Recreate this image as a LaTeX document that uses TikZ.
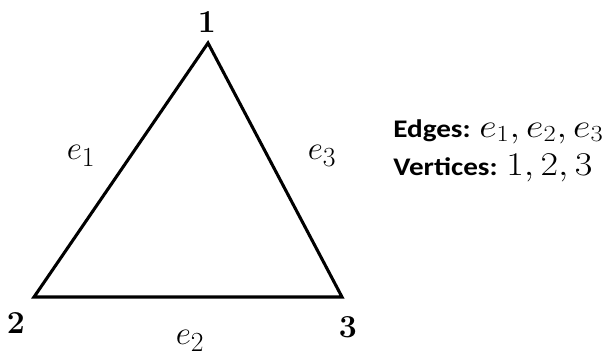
\documentclass[tikz,border=0pt]{standalone}
\usepackage{fontspec}
\newfontfamily\calib{Carlito}
\usetikzlibrary{positioning}
\begin{document}
\begin{tikzpicture}[x=0.75pt,y=-0.75pt,
  edge/.style={line width=2.3pt,line join=miter},
  vlabel/.style={font=\fontsize{24}{28}\selectfont\bfseries,inner sep=0pt},
  elabel/.style={font=\fontsize{28}{32}\selectfont,inner sep=0pt},
  legend/.style={font=\calib\fontsize{19}{22}\selectfont,inner sep=0pt,xscale=1.15}]
\useasboundingbox (0,0) rectangle (605,355);
% vertices of the triangle
\coordinate (v1) at (208,43);
\coordinate (v2) at (34,297);
\coordinate (v3) at (342,297);
\node[vlabel] (n1) at (207,22) {1};
\node[vlabel] (n2) at (16,323) {2};
\node[vlabel] (n3) at (348,327) {3};
% edges
\draw[edge] (v1) -- (v2) -- (v3) -- cycle;
\node[elabel] (e1) at (81,156) {$e_1$};
\node[elabel] (e3) at (322,156) {$e_3$};
\node[elabel] (e2) at (190,341) {$e_2$};
% legend
\node[legend,anchor=base west] (leg) at (393,137) {\textbf{Edges:} {\fontsize{23}{24}\selectfont$e_1,e_2,e_3$}};
\node[legend,anchor=base west] (leg2) at (393,175) {\textbf{Vertices:} {\fontsize{23}{24}\selectfont$1,2,3$}};
\end{tikzpicture}
\end{document}
